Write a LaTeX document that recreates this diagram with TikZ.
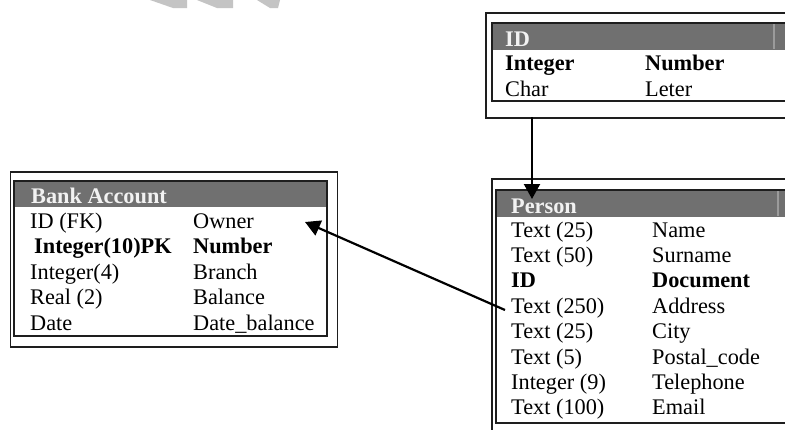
\documentclass[tikz,border=0pt]{standalone}
\usepackage{fontspec}
\setmainfont{Liberation Serif}
\usetikzlibrary{arrows.meta}
\definecolor{hdrgray}{HTML}{707070}
\definecolor{hdrtext}{HTML}{F2F2F2}
\definecolor{framecol}{HTML}{1E1E1E}
\definecolor{wmgray}{HTML}{C4C4C4}
\begin{document}
\begin{tikzpicture}[x=1pt,y=-1pt,
  cell/.style={anchor=base west, inner sep=0pt, font=\fontsize{22.3}{24}\selectfont},
  cellb/.style={anchor=base west, inner sep=0pt, font=\fontsize{22.3}{24}\selectfont\bfseries},
  hdr/.style={anchor=base west, inner sep=0pt, font=\fontsize{22.3}{24}\selectfont\bfseries, text=hdrtext},
  outerframe/.style={draw=framecol, line width=1.8pt, anchor=north west, inner sep=0pt},
  innerframe/.style={draw=framecol, line width=2.6pt},
  hdrfill/.style={fill=hdrgray},
  stripe/.style={draw=hdrgray!70!white, line width=1.2pt},
  link/.style={draw=black, line width=2.2pt, -{Triangle[length=15pt,width=16pt]}},
  wm/.style={fill=wmgray, draw=none}]
\useasboundingbox (0,0) rectangle (785,429);
\clip (0,0) rectangle (785,429);
\fill[white] (0,0) rectangle (785,429);

% watermark fragments
\fill[wm] (150,0) -- (187,0) -- (187,8) -- (173,8) -- cycle;
\fill[wm] (197,0) -- (233,0) -- (233,8) -- (217,8) -- cycle;
\fill[wm] (257,0) -- (280,0) -- (278,8) -- (270,8) -- cycle;

% ---------------- Bank Account ----------------
\node[outerframe, minimum width=327pt, minimum height=175pt] (bankbox) at (9.5,171) {};
\fill[hdrfill] (14,181) rectangle (327,207);
\draw[innerframe] (14,181) rectangle (327,336);
\node[hdr]  (bankhdr) at (31,203)   {Bank Account};
\node[cell] (b1l) at (30,228)   {ID (FK)};
\node[cell] (owner) at (193,228)  {Owner};
\node[cellb] (b2l) at (34,253.5)  {Integer(10)PK};
\node[cellb] (b2r) at (193,253.5) {Number};
\node[cell] (b3l) at (30,279) {Integer(4)};
\node[cell] (b3r) at (193,279){Branch};
\node[cell] (b4l) at (30,304.5)   {Real (2)};
\node[cell] (b4r) at (193,304.5)  {Balance};
\node[cell] (b5l) at (30,330)   {Date};
\node[cell] (b5r) at (193,330)  {Date\_balance};

% ---------------- ID ----------------
\node[outerframe, minimum width=320pt, minimum height=105pt] (idbox) at (485,12) {};
\fill[hdrfill] (492,23) rectangle (800,50);
\draw[stripe] (774,24) -- (774,49);
\draw[innerframe] (492,23) rectangle (800,101);
\node[hdr]  (idhdr) at (505,46)   {ID};
\node[cellb] (i1l) at (505,70.5) {Integer};
\node[cellb] (i1r) at (645,70.5) {Number};
\node[cell] (i2l) at (505,96)    {Char};
\node[cell] (i2r) at (645,96)    {Leter};

% ---------------- Person ----------------
\node[outerframe, minimum width=320pt, minimum height=270pt] (personbox) at (491,178) {};
\fill[hdrfill] (496,190) rectangle (800,217);
\draw[stripe] (778,191) -- (778,216);
\draw[innerframe] (496,190) rectangle (800,423);
\node[hdr]  (personhdr) at (511,213) {Person};
\node[cell] (p1l) at (511,237)   {Text (25)};
\node[cell] (p1r) at (652,237)   {Name};
\node[cell] (p2l) at (511,262.4) {Text (50)};
\node[cell] (p2r) at (652,262.4) {Surname};
\node[cellb] (p3l) at (511,287.8) {ID};
\node[cellb] (p3r) at (652,287.8) {Document};
\node[cell] (addrtype) at (511,313.2) {Text (250)};
\node[cell] (p4r) at (652,313.2) {Address};
\node[cell] (p5l) at (511,338.6) {Text (25)};
\node[cell] (p5r) at (652,338.6) {City};
\node[cell] (p6l) at (511,364) {Text (5)};
\node[cell] (p6r) at (652,364) {Postal\_code};
\node[cell] (p7l) at (511,389.4) {Integer (9)};
\node[cell] (p7r) at (652,389.4) {Telephone};
\node[cell] (p8l) at (511,414.8) {Text (100)};
\node[cell] (p8r) at (652,414.8) {Email};

% ---------------- connectors ----------------
\coordinate (a1s) at (532,117);
\coordinate (a1e) at (532,199);
\draw[link] (a1s) -- (a1e);
\coordinate (a2s) at (505,310);
\coordinate (a2e) at (305,222);
\draw[link] (a2s) -- (a2e);
\end{tikzpicture}
\end{document}
